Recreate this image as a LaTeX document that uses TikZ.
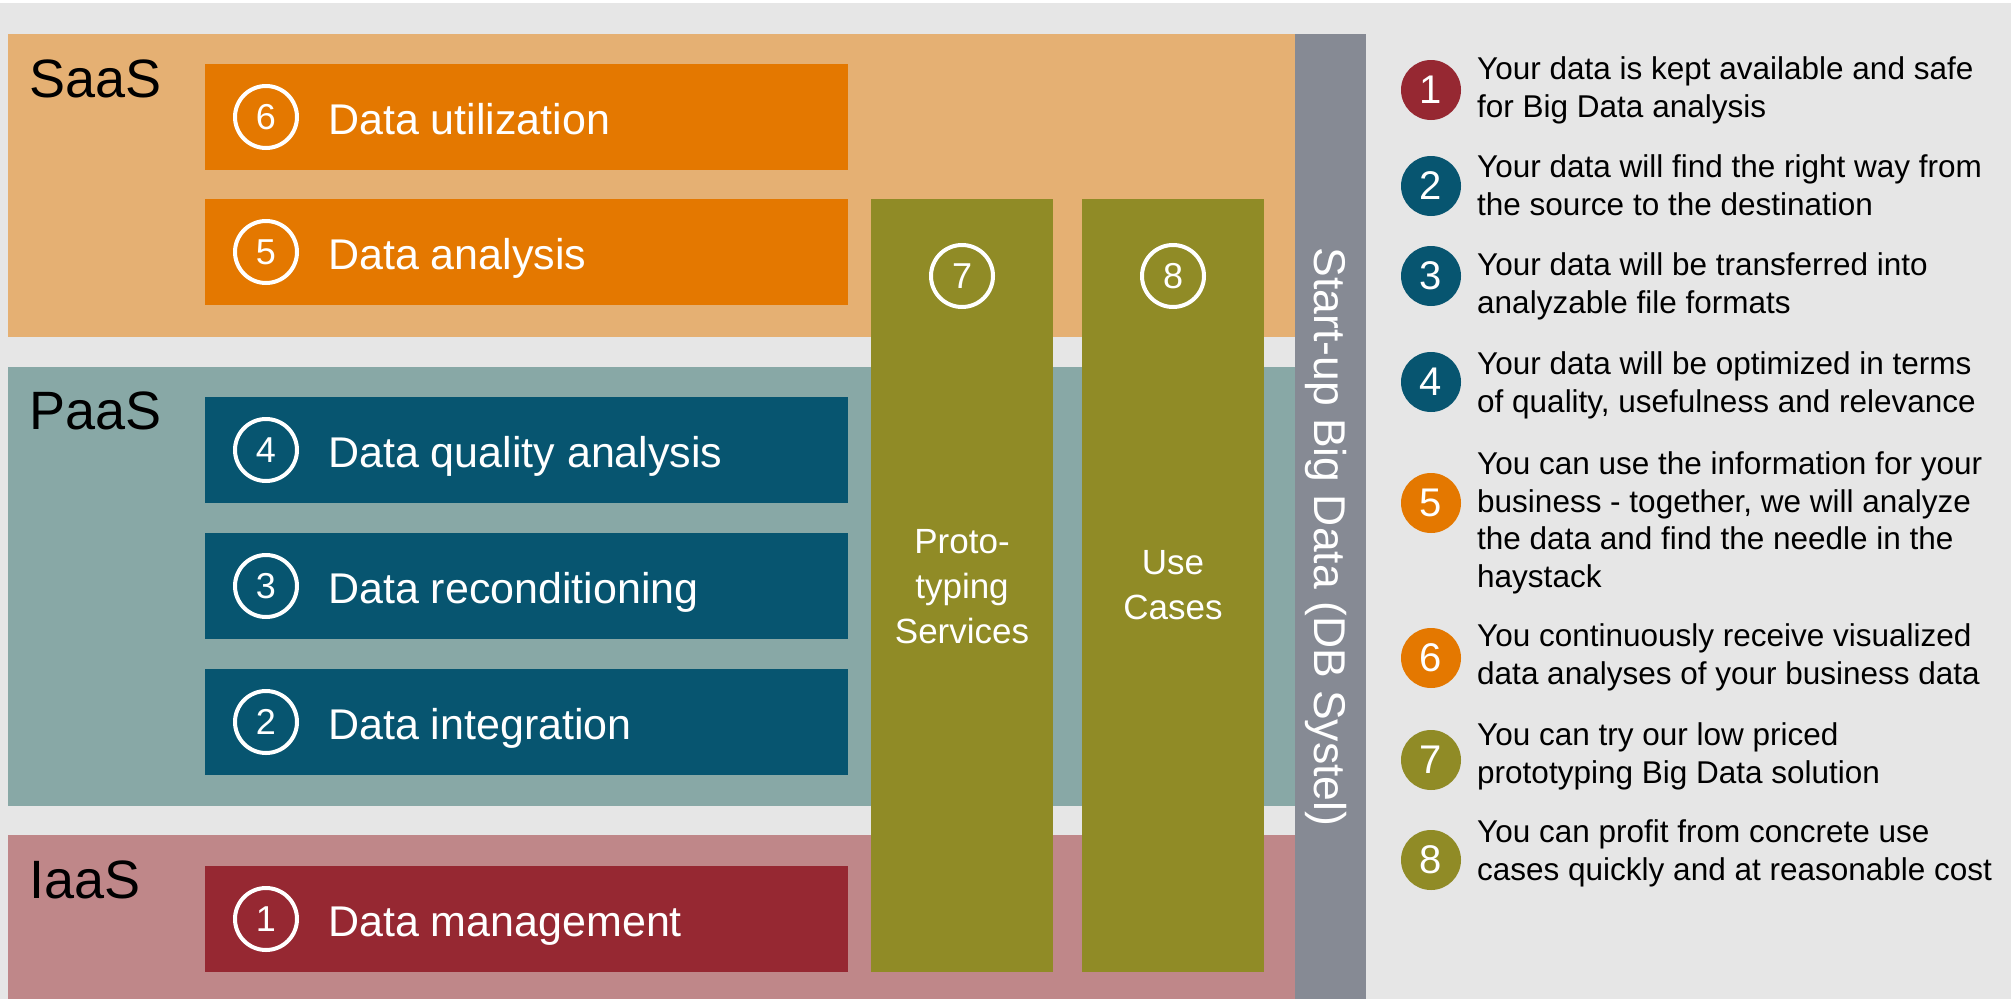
\documentclass[tikz,border=0pt]{standalone}
\usepackage{fontspec}
\setmainfont{Liberation Sans}
\definecolor{bgc}{HTML}{E6E6E6}
\definecolor{saasc}{HTML}{E5B073}
\definecolor{paasc}{HTML}{88A8A6}
\definecolor{iaasc}{HTML}{BF8789}
\definecolor{orangec}{HTML}{E47800}
\definecolor{tealc}{HTML}{075570}
\definecolor{redc}{HTML}{962832}
\definecolor{olivec}{HTML}{908B26}
\definecolor{barc}{HTML}{868A94}
\tikzset{
  band/.style={rectangle, inner sep=0pt, anchor=north west},
  stepbox/.style={rectangle, inner sep=0pt, anchor=north west, minimum width=643pt, minimum height=106pt},
  ringnum/.style={circle, draw=white, line width=4pt, minimum size=62pt, inner sep=0pt, text=white, font=\fontsize{36}{36}\selectfont},
  steplabel/.style={anchor=base west, inner sep=0pt, text=white, font=\fontsize{43}{50}\selectfont},
  layerlabel/.style={anchor=base west, inner sep=0pt, text=black, font=\fontsize{54}{60}\selectfont},
  colbox/.style={rectangle, inner sep=0pt, anchor=north west, fill=olivec, minimum width=182pt, minimum height=773pt},
  coltext/.style={anchor=base, inner sep=0pt, text=white, align=center, font=\fontsize{35}{45}\selectfont},
  legcirc/.style={circle, minimum size=60pt, inner sep=0pt, text=white, font=\fontsize{40}{40}\selectfont},
  legtext/.style={anchor=base west, inner sep=0pt, text=black, align=left, font=\fontsize{31.5}{37.5}\selectfont},
}
\begin{document}
\begin{tikzpicture}[x=1pt,y=-1pt]
\useasboundingbox (0,0) rectangle (2011,999);
\fill[bgc] (0,0) rectangle (2011,999);
\fill[white] (0,0) rectangle (2011,3);
% layer bands
\node[band, fill=saasc, minimum width=1287pt, minimum height=303pt] (saas) at (8,34) {};
\node[band, fill=paasc, minimum width=1287pt, minimum height=439pt] (paas) at (8,367) {};
\node[band, fill=iaasc, minimum width=1287pt, minimum height=164pt] (iaas) at (8,835) {};
% vertical bar
\node[band, fill=barc, minimum width=71pt, minimum height=965pt] (bar) at (1295,34) {};
\node[anchor=base, inner sep=0pt, rotate=-90, text=white, font=\fontsize{44.5}{44.5}\selectfont] (bartext) at (1314,537) {Start-up Big Data (DB Systel)};
% layer labels
\node[layerlabel] (saaslbl) at (29,97) {SaaS};
\node[layerlabel] (paaslbl) at (29,429) {PaaS};
\node[layerlabel] (iaaslbl) at (29,898) {IaaS};
% step boxes
\node[stepbox, fill=orangec] (b6) at (205,64) {};
\node[stepbox, fill=orangec] (b5) at (205,199) {};
\node[stepbox, fill=tealc] (b4) at (205,397) {};
\node[stepbox, fill=tealc] (b3) at (205,533) {};
\node[stepbox, fill=tealc] (b2) at (205,669) {};
\node[stepbox, fill=redc] (b1) at (205,866) {};
\node[ringnum] (n6) at (266,117) {6};
\node[ringnum] (n5) at (266,252) {5};
\node[ringnum] (n4) at (266,450) {4};
\node[ringnum] (n3) at (266,586) {3};
\node[ringnum] (n2) at (266,722) {2};
\node[ringnum] (n1) at (266,919) {1};
\node[steplabel] (t6) at (328,134) {Data utilization};
\node[steplabel] (t5) at (328,269) {Data analysis};
\node[steplabel] (t4) at (328,467) {Data quality analysis};
\node[steplabel] (t3) at (328,603) {Data reconditioning};
\node[steplabel] (t2) at (328,739) {Data integration};
\node[steplabel] (t1) at (328,936) {Data management};
% columns
\node[colbox] (c7) at (871,199) {};
\node[colbox] (c8) at (1082,199) {};
\node[ringnum] (n7) at (962,276) {7};
\node[ringnum] (n8) at (1173,276) {8};
\node[coltext] (t7) at (962,643) {Proto-\\typing\\Services};
\node[coltext] (t8) at (1173,619) {Use\\Cases};
% legend
\node[legcirc, fill=redc] (l1) at (1431,90) {1};
\node[legcirc, fill=tealc] (l2) at (1431,186) {2};
\node[legcirc, fill=tealc] (l3) at (1431,276) {3};
\node[legcirc, fill=tealc] (l4) at (1431,382) {4};
\node[legcirc, fill=orangec] (l5) at (1431,503) {5};
\node[legcirc, fill=orangec] (l6) at (1431,658) {6};
\node[legcirc, fill=olivec] (l7) at (1431,760) {7};
\node[legcirc, fill=olivec] (l8) at (1431,860) {8};
\node[legtext] (d1) at (1477,117) {Your data is kept available and safe\\for Big Data analysis};
\node[legtext] (d2) at (1477,215) {Your data will find the right way from\\the source to the destination};
\node[legtext] (d3) at (1477,313) {Your data will be transferred into\\analyzable file formats};
\node[legtext] (d4) at (1477,412) {Your data will be optimized in terms\\of quality, usefulness and relevance};
\node[legtext] (d5) at (1477,587) {You can use the information for your\\business - together, we will analyze\\the data and find the needle in the\\haystack};
\node[legtext] (d6) at (1477,684) {You continuously receive visualized\\data analyses of your business data};
\node[legtext] (d7) at (1477,783) {You can try our low priced\\prototyping Big Data solution};
\node[legtext] (d8) at (1477,880) {You can profit from concrete use\\cases quickly and at reasonable cost};
\end{tikzpicture}
\end{document}
